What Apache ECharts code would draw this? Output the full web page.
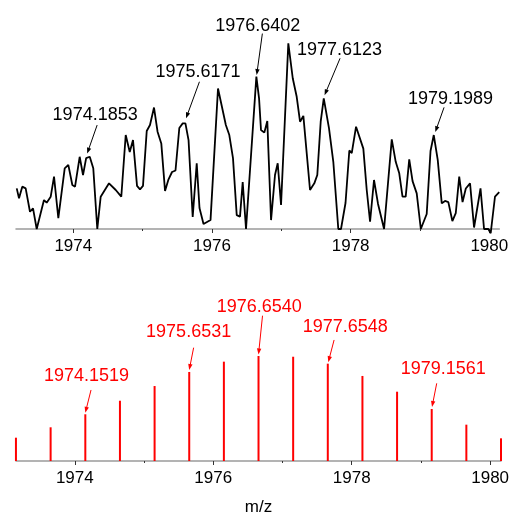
<!DOCTYPE html>
<html>
<head>
<meta charset="utf-8">
<script src="https://cdn.jsdelivr.net/npm/echarts@6/dist/echarts.min.js"></script>
<style>
  html, body { margin: 0; padding: 0; background: #fff; }
  #chart { width: 514px; height: 514px; }
</style>
</head>
<body>
<div id="chart"></div>
<script>
// Upper panel: measured spectrum (m/z, relative intensity)
const measuredMz = [
  1973.184, 1973.217, 1973.264, 1973.313, 1973.375, 1973.419, 1973.472, 1973.577, 1973.616, 1973.674,
  1973.722, 1973.784, 1973.876, 1973.928, 1973.986, 1974.025, 1974.092, 1974.140, 1974.1853, 1974.237,
  1974.288, 1974.346, 1974.395, 1974.515, 1974.612, 1974.692, 1974.756, 1974.814, 1974.861, 1974.919,
  1974.962, 1975.005, 1975.059, 1975.106, 1975.164, 1975.215, 1975.269, 1975.323, 1975.370, 1975.424,
  1975.474, 1975.529, 1975.578, 1975.6171, 1975.662, 1975.722, 1975.780, 1975.820, 1975.878, 1975.979,
  1976.087, 1976.200, 1976.250, 1976.303, 1976.357, 1976.404, 1976.443, 1976.491, 1976.6402, 1976.679,
  1976.707, 1976.755, 1976.798, 1976.852, 1976.909, 1976.948, 1976.996, 1977.101, 1977.165, 1977.222,
  1977.270, 1977.318, 1977.414, 1977.476, 1977.519, 1977.568, 1977.6123, 1977.688, 1977.750, 1977.822,
  1977.861, 1977.926, 1977.981, 1978.016, 1978.078, 1978.183, 1978.232, 1978.280, 1978.337, 1978.395,
  1978.482, 1978.593, 1978.650, 1978.701, 1978.748, 1978.794, 1978.845, 1978.893, 1978.953, 1979.012,
  1979.097, 1979.152, 1979.1989, 1979.256, 1979.314, 1979.361, 1979.409, 1979.467, 1979.516, 1979.566,
  1979.614, 1979.661, 1979.722, 1979.780, 1979.873, 1979.924, 1979.986, 1980.020, 1980.082, 1980.143
];
const measuredIntensity = [
  21.9, 16.5, 22.8, 21.9, 9.3, 11.1, 0, 15.6, 14.2, 17.4,
  28.2, 5.8, 32.7, 34.5, 23.7, 22.8, 38.9, 29.1, 38.2, 38.9,
  32.7, 0, 17.4, 24.6, 21.0, 17.4, 50.6, 41.5, 47.9, 23.2,
  21.3, 23.2, 52.8, 56.0, 65.4, 52.4, 46.1, 20.5, 26.4, 30.7,
  31.5, 54.4, 56.9, 56.9, 47.9, 6.5, 35.4, 11.3, 2.7, 4.8,
  75.7, 56.0, 50.6, 38.2, 7.5, 6.7, 25.3, 0, 82.1, 70.4,
  53.3, 51.9, 58.2, 4.8, 29.1, 35.4, 12.9, 100, 81.2, 71.2,
  57.8, 60.9, 21.0, 24.6, 29.1, 57.8, 70.4, 54.2, 36.2, 0,
  0, 14.0, 42.3, 40.9, 55.1, 43.3, 21.0, 3.9, 26.4, 13.5,
  0, 48.3, 36.2, 30.0, 17.4, 17.4, 37.5, 25.8, 19.2, 0,
  8.1, 42.0, 50.6, 37.2, 13.8, 15.1, 14.5, 4.3, 8.5, 28.2,
  14.5, 21.8, 24.6, 0.8, 21.9, 0, 0, -2.3, 17.5, 19.9
];

// Lower panel: theoretical isotope pattern
const isotopeMz = [
  1973.1498, 1973.6506, 1974.1519, 1974.6522, 1975.1527, 1975.6531, 1976.1536, 1976.6540,
  1977.1544, 1977.6548, 1978.1552, 1978.6556, 1979.1561, 1979.6565, 1980.1569
];
const isotopeAbundance = [
  22.2, 32.1, 44.5, 57.4, 71.4, 84.8, 94.6, 100, 99.3, 92.7, 81.0, 66.0, 49.5, 34.6, 21.6
];

// Annotated peaks
const measuredPeakLabels = ['1974.1853', '1975.6171', '1976.6402', '1977.6123', '1979.1989'];
const isotopePeakLabels = ['1974.1519', '1975.6531', '1976.6540', '1977.6548', '1979.1561'];

// Axis ticks
const majorTicks = [1974, 1976, 1978, 1980];
const minorTicks = [1975, 1977, 1979];

// Callout geometry, in pixels relative to the peak: arrow tip, arrow tail, text centre
const measuredCallouts = [
  { tip: [1, -4.5], tail: [11, -33], text: [9, -43] },
  { tip: [0.6, -5], tail: [14, -41.6], text: [12.6, -51.6] },
  { tip: [0.3, -1.5], tail: [6, -43], text: [1.4, -51] },
  { tip: [0.8, -3], tail: [16.3, -40], text: [15.8, -48.3] },
  { tip: [1.5, -3], tail: [10.3, -27.7], text: [16.8, -36] }
];
const isotopeCallouts = [
  { tip: [0, -1.5], tail: [5.7, -24.3], text: [1.2, -38.3] },
  { tip: [0, -2], tail: [4.4, -24.3], text: [-0.6, -39.7] },
  { tip: [0, -1.5], tail: [4, -40.3], text: [0.8, -49] },
  { tip: [0.5, -1.5], tail: [6.3, -23.7], text: [17.5, -36.4] },
  { tip: [0.3, -2], tail: [5, -25.7], text: [11.6, -40] }
];

const FONT = '"Liberation Sans", Arial, sans-serif';
const chart = echarts.init(document.getElementById('chart'), null, { renderer: 'canvas' });

function mainAxis(gridIndex, min, max, extra) {
  return Object.assign({
    type: 'value', gridIndex, min, max, position: 'bottom',
    axisLine: { show: true, onZero: false, lineStyle: { color: '#9a9a9a', width: 1.5 } },
    axisTick: { show: true, customValues: majorTicks, length: 4, lineStyle: { color: '#333', width: 1 } },
    axisLabel: {
      show: true, customValues: majorTicks, fontSize: 17, fontFamily: FONT, color: '#000', margin: 9,
      formatter: v => String(v)
    },
    splitLine: { show: false }
  }, extra || {});
}
function minorAxis(gridIndex, min, max) {
  return {
    type: 'value', gridIndex, min, max, position: 'bottom',
    axisLine: { show: false, onZero: false },
    axisTick: { show: true, customValues: minorTicks, length: 2, lineStyle: { color: '#333', width: 1 } },
    axisLabel: { show: false },
    splitLine: { show: false }
  };
}

const topMin = 1973.1735, topMax = 1980.144;
const botMin = 1973.1505, botMax = 1980.157;

chart.setOption({
  animation: false,
  backgroundColor: '#fff',
  grid: [
    { left: 16, top: 6.2, width: 483.3, height: 222.8, containLabel: false, outerBoundsMode: 'none' },
    { left: 16, top: 282.5, width: 485, height: 178.5, containLabel: false, outerBoundsMode: 'none' }
  ],
  xAxis: [
    mainAxis(0, topMin, topMax),
    minorAxis(0, topMin, topMax),
    mainAxis(1, botMin, botMax, {
      name: 'm/z', nameLocation: 'middle', nameGap: 38,
      nameTextStyle: { fontSize: 17, fontFamily: FONT, color: '#000' }
    }),
    minorAxis(1, botMin, botMax)
  ],
  yAxis: [
    { type: 'value', gridIndex: 0, min: 0, max: 120, show: false },
    { type: 'value', gridIndex: 1, min: 0, max: 170, show: false }
  ],
  series: [
    {
      type: 'line', xAxisIndex: 0, yAxisIndex: 0,
      data: measuredMz.map((m, i) => [m, measuredIntensity[i]]),
      showSymbol: false, clip: false,
      lineStyle: { color: '#000', width: 1.8 }
    },
    {
      type: 'bar', xAxisIndex: 2, yAxisIndex: 1,
      data: isotopeMz.map((m, i) => [m, isotopeAbundance[i]]),
      barWidth: 2, clip: false,
      itemStyle: { color: '#ff0000' }
    }
  ]
});

// Arrow + text callouts, positioned through the chart's own coordinate conversion
function callout(peak, geo, label, color) {
  const tip = [peak[0] + geo.tip[0], peak[1] + geo.tip[1]];
  const tail = [peak[0] + geo.tail[0], peak[1] + geo.tail[1]];
  const txt = [peak[0] + geo.text[0], peak[1] + geo.text[1]];
  const dx = tip[0] - tail[0], dy = tip[1] - tail[1];
  const len = Math.hypot(dx, dy);
  const ux = dx / len, uy = dy / len;
  const headL = 6, headW = 2.2;
  const bx = tip[0] - ux * headL, by = tip[1] - uy * headL;
  return [
    { type: 'line', silent: true,
      shape: { x1: tail[0], y1: tail[1], x2: bx + ux, y2: by + uy },
      style: { stroke: color, lineWidth: 1 } },
    { type: 'polygon', silent: true,
      shape: { points: [tip, [bx - uy * headW, by + ux * headW], [bx + uy * headW, by - ux * headW]] },
      style: { fill: color } },
    { type: 'text', silent: true, x: txt[0], y: txt[1],
      style: { text: label, fill: color, fontSize: 18, fontFamily: FONT, align: 'center', verticalAlign: 'middle' } }
  ];
}

const graphics = [];
measuredPeakLabels.forEach((lab, k) => {
  const v = parseFloat(lab);
  const i = measuredMz.indexOf(v);
  const p = chart.convertToPixel({ xAxisIndex: 0, yAxisIndex: 0 }, [v, measuredIntensity[i]]);
  graphics.push(...callout(p, measuredCallouts[k], lab, '#000'));
});
isotopePeakLabels.forEach((lab, k) => {
  const v = parseFloat(lab);
  const i = isotopeMz.indexOf(v);
  const p = chart.convertToPixel({ xAxisIndex: 2, yAxisIndex: 1 }, [v, isotopeAbundance[i]]);
  graphics.push(...callout(p, isotopeCallouts[k], lab, '#ff0000'));
});
chart.setOption({ graphic: graphics });
</script>
</body>
</html>
